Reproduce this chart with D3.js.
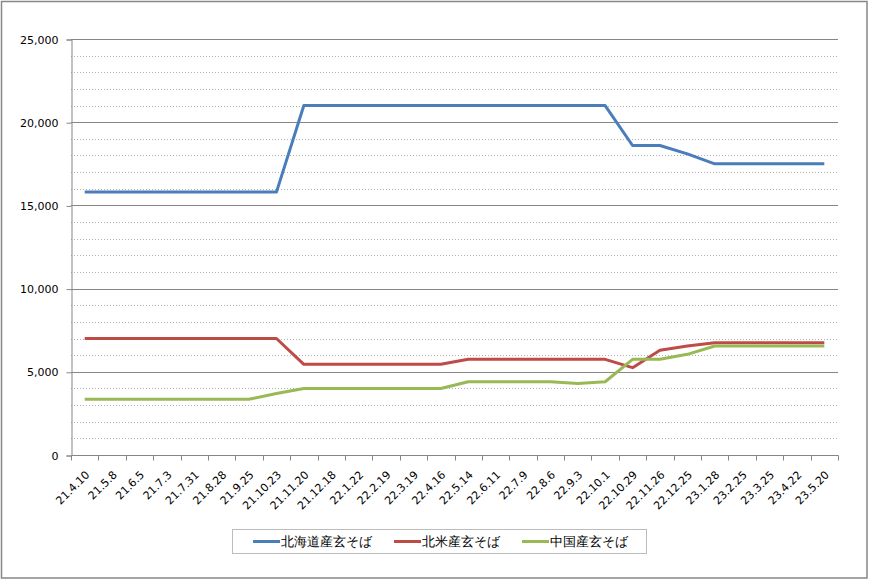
<!DOCTYPE html>
<html><head><meta charset="utf-8">
<script src="https://cdn.jsdelivr.net/npm/d3@7"></script>
<style>
body{margin:0;background:#fff;}
svg{display:block;}
text{font-family:"DejaVu Sans","Noto Sans",sans-serif;}
</style></head>
<body>
<svg id="c" width="869" height="580"></svg>
<script>
const categories = ["21.4.10","21.5.8","21.6.5","21.7.3","21.7.31","21.8.28","21.9.25","21.10.23","21.11.20","21.12.18","22.1.22","22.2.19","22.3.19","22.4.16","22.5.14","22.6.11","22.7.9","22.8.6","22.9.3","22.10.1","22.10.29","22.11.26","22.12.25","23.1.28","23.2.25","23.3.25","23.4.22","23.5.20"];
const hokkaido = [15800,15800,15800,15800,15800,15800,15800,15800,21000,21000,21000,21000,21000,21000,21000,21000,21000,21000,21000,21000,18600,18600,18100,17500,17500,17500,17500,17500];
const hokubei = [7000,7000,7000,7000,7000,7000,7000,7000,5450,5450,5450,5450,5450,5450,5750,5750,5750,5750,5750,5750,5250,6300,6550,6750,6750,6750,6750,6750];
const chugoku = [3350,3350,3350,3350,3350,3350,3350,3700,4000,4000,4000,4000,4000,4000,4400,4400,4400,4400,4300,4400,5750,5750,6050,6550,6550,6550,6550,6550];
const seriesNames = ["北海道産玄そば","北米産玄そば","中国産玄そば"];
const seriesColors = ["#4a7ebb","#be4b48","#98b954"];
const yTicks = [0,5000,10000,15000,20000,25000];

const svg = d3.select("#c");
svg.append("rect").attr("x",1.5).attr("y",1.5).attr("width",865.5).attr("height",576.5)
  .attr("fill","#fff").attr("stroke","#878787").attr("stroke-width",1.5);

const L=71, R=838, T=39, B=455;
const x = d3.scaleBand().domain(categories).range([L,R]);
const y = d3.scaleLinear().domain([0,25000]).range([B,T]);

// minor gridlines
const minor = d3.range(1000,25000,1000).filter(v=>v%5000!==0);
svg.append("g").selectAll("line").data(minor).join("line")
  .attr("x1",L).attr("x2",R).attr("y1",d=>Math.round(y(d))+0.5).attr("y2",d=>Math.round(y(d))+0.5)
  .attr("stroke","#b0b0b0").attr("stroke-dasharray","1,2").attr("stroke-width",1);
// major gridlines
svg.append("g").selectAll("line").data(yTicks.filter(v=>v>0)).join("line")
  .attr("x1",L).attr("x2",R).attr("y1",d=>Math.round(y(d))+0.5).attr("y2",d=>Math.round(y(d))+0.5)
  .attr("stroke","#868686").attr("stroke-width",1);

// y axis
const yAxis = d3.axisLeft(y).tickValues(yTicks).tickFormat(d3.format(",")).tickSize(5).tickPadding(8);
const gy = svg.append("g").attr("transform",`translate(${L+0.5},0.5)`).call(yAxis);
gy.select(".domain").attr("stroke","#868686");
gy.selectAll(".tick line").attr("stroke","#868686");
gy.selectAll(".tick text").attr("font-size",11).attr("fill","#000");

// x axis
const gx = svg.append("g").attr("transform",`translate(0.5,${B+0.5})`);
gx.append("line").attr("x1",L).attr("x2",R).attr("stroke","#868686");
const bounds = categories.map(c=>x(c)).concat([R]);
gx.selectAll("line.t").data(bounds).join("line").attr("class","t")
  .attr("x1",d=>Math.round(d)).attr("x2",d=>Math.round(d)).attr("y1",0).attr("y2",5).attr("stroke","#868686");
gx.selectAll("text").data(categories).join("text")
  .attr("font-size",11).attr("fill","#000").attr("text-anchor","end")
  .attr("transform",d=>`translate(${x(d)+x.bandwidth()/2+5},${20}) rotate(-45)`)
  .text(d=>d);

// lines
const allSeries = [hokkaido,hokubei,chugoku];
const line = d3.line().x((d,i)=>x(categories[i])+x.bandwidth()/2).y(d=>y(d));
allSeries.forEach((s,k)=>{
  svg.append("path").datum(s).attr("d",line).attr("fill","none")
    .attr("stroke",seriesColors[k]).attr("stroke-width",3).attr("stroke-linejoin","round");
});

// legend
const lg = svg.append("g");
lg.append("rect").attr("x",232.5).attr("y",529.5).attr("width",414).attr("height",24)
  .attr("fill","#fff").attr("stroke","#bcbcbc");
const legX = [253,394,522];
seriesNames.forEach((n,k)=>{
  lg.append("line").attr("x1",legX[k]).attr("x2",legX[k]+27).attr("y1",541.5).attr("y2",541.5)
    .attr("stroke",seriesColors[k]).attr("stroke-width",3);
  lg.append("text").attr("x",legX[k]+28).attr("y",546).attr("font-size",13)
    .attr("font-family","'Noto Sans CJK JP',sans-serif").attr("fill","#000").text(n);
});
</script>
</body></html>
